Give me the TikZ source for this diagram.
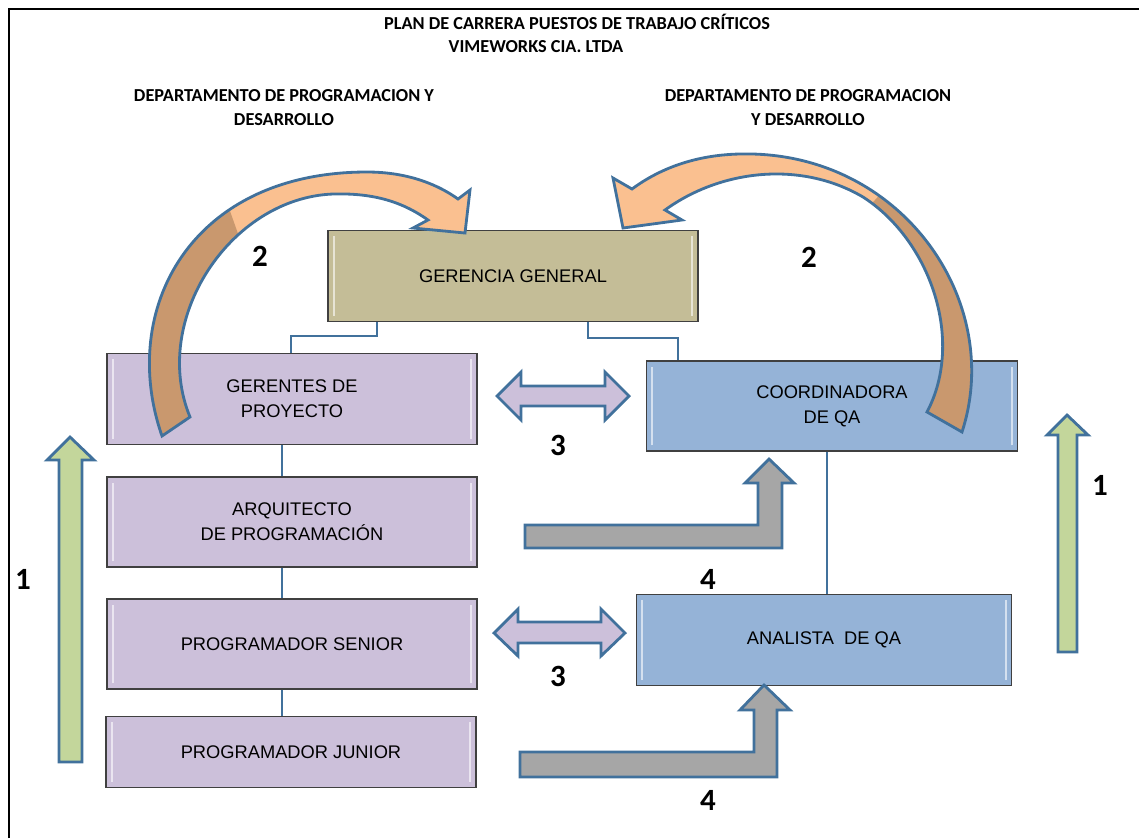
\documentclass[tikz,border=0pt]{standalone}
\usepackage{fontspec}
\setmainfont{Liberation Sans}
\newfontfamily\carlito{Carlito}
\usetikzlibrary{calc}

\definecolor{olivebox}{HTML}{C4BD97}
\definecolor{lilabox}{HTML}{CCC0DA}
\definecolor{bluebox}{HTML}{95B3D7}
\definecolor{lineblue}{HTML}{41719C}
\definecolor{peachlight}{HTML}{FAC090}
\definecolor{peachdark}{HTML}{C9986E}
\definecolor{greyarrow}{HTML}{A6A6A6}
\definecolor{greenarrow}{HTML}{C3D69B}

% curved arrows (2), outline of the whole band
\def\arcleft{(162,436) .. controls (118,310) and (190,172) .. (367,172)
  .. controls (410,172) and (440,186) .. (458,199) -- (470,190) -- (465,233)
  -- (413,228) -- (428,220) .. controls (400,200) and (370,193) .. (333,194)
  .. controls (230,198) and (150,320) .. (190,417) -- cycle}
\def\arcright{(962,432) .. controls (1005,300) and (900,150) .. (740,154)
  .. controls (690,155) and (655,172) .. (632,189) -- (613,178) -- (623,228)
  -- (682,220) -- (665,210) .. controls (720,170) and (800,160) .. (863,197)
  .. controls (930,240) and (965,340) .. (927,412) -- cycle}

\begin{document}
\begin{tikzpicture}[x=0.025cm,y=-0.025cm,
  box/.style={rectangle, draw=black!75, line width=0.8pt, align=center,
    minimum width=9.25cm, minimum height=2.25cm,
    font=\fontsize{13}{18}\selectfont,
    path picture={
      \draw[white, opacity=.6, line width=1.4pt]
        ([xshift=4pt,yshift=4pt]path picture bounding box.south west) --
        ([xshift=4pt,yshift=-4pt]path picture bounding box.north west);
      \draw[white, opacity=.6, line width=1.4pt]
        ([xshift=-4pt,yshift=4pt]path picture bounding box.south east) --
        ([xshift=-4pt,yshift=-4pt]path picture bounding box.north east);}},
  conn/.style={draw=lineblue, line width=2pt},
  blockarrow/.style={draw=lineblue, line width=2pt, line join=miter},
  num/.style={font=\carlito\bfseries\fontsize{22}{22}\selectfont},
  head/.style={font=\carlito\bfseries\fontsize{13}{17}\selectfont, align=center}]
\useasboundingbox (0,0) rectangle (1139,838);
\draw[line width=2pt] (9,838) -- (9,9) -- (1139,9);

% titles
\node[head] (title) at (577,22) {PLAN DE CARRERA PUESTOS DE TRABAJO CRÍTICOS};
\node[head] (firm) at (536,47) {VIMEWORKS CIA. LTDA};
\node[head] (deptA) at (284,108) {DEPARTAMENTO DE PROGRAMACION Y\\DESARROLLO};
\node[head] (deptB) at (808,108) {DEPARTAMENTO DE PROGRAMACION\\Y DESARROLLO};

% puestos
\node[box, fill=olivebox, minimum height=2.275cm] (gg) at (513,276) {GERENCIA GENERAL};
\node[box, fill=lilabox, minimum height=2.275cm] (gp) at (292,399) {GERENTES DE\\PROYECTO};
\node[box, fill=lilabox] (ap) at (292,522) {ARQUITECTO\\DE PROGRAMACIÓN};
\node[box, fill=lilabox] (ps) at (292,644) {PROGRAMADOR SENIOR};
\node[box, fill=lilabox, minimum height=1.775cm] (pj) at (291,752) {PROGRAMADOR JUNIOR};
\node[box, fill=bluebox, minimum width=9.275cm] (cq) at (832,406) {COORDINADORA\\DE QA};
\node[box, fill=bluebox, minimum width=9.375cm, minimum height=2.275cm] (aq) at (824,640) {ANALISTA~~DE QA};

\draw[conn] (gg.south -| 377,0) -- (377,336) -| (gp.north -| 291,0);
\draw[conn] (gg.south -| 588,0) -- (588,338) -| (cq.north -| 678,0);
\draw[conn] (gp.south -| 282,0) -- (ap.north -| 282,0);
\draw[conn] (ap.south -| 282,0) -- (ps.north -| 282,0);
\draw[conn] (ps.south -| 282,0) -- (pj.north -| 282,0);
\draw[conn] (cq.south -| 827,0) -- (aq.north -| 827,0);

% 1: ascenso vertical
\filldraw[blockarrow, fill=greenarrow] (59,762) -- (59,460) -- (47,460) -- (70,437)
  -- (94,460) -- (82,460) -- (82,762) -- cycle;
\filldraw[blockarrow, fill=greenarrow] (1058,652) -- (1058,435) -- (1047,435) -- (1067,415)
  -- (1088,435) -- (1077,435) -- (1077,652) -- cycle;

% 2: hacia gerencia
\fill[peachlight] \arcleft;
\begin{scope}
  \clip \arcleft;
  \fill[peachdark] (100,160) -- (212,160) -- (242,245) -- (260,460) -- (100,460) -- cycle;
\end{scope}
\draw[blockarrow] \arcleft;
\fill[peachlight] \arcright;
\begin{scope}
  \clip \arcright;
  \fill[peachdark] (830,250) -- (920,150) -- (1030,150) -- (1030,460) -- (830,460) -- cycle;
\end{scope}
\draw[blockarrow] \arcright;

% 3: rotacion entre departamentos
\filldraw[blockarrow, fill=lilabox] (497,396) -- (521,372) -- (521,386) -- (605,386) -- (605,372)
  -- (629,396) -- (605,420) -- (605,406) -- (521,406) -- (521,420) -- cycle;
\filldraw[blockarrow, fill=lilabox] (494,633) -- (518,609) -- (518,622) -- (601,622) -- (601,609)
  -- (625,633) -- (601,656) -- (601,643) -- (518,643) -- (518,656) -- cycle;

% 4: hacia QA
\filldraw[blockarrow, fill=greyarrow] (525,525) -- (758,525) -- (758,483) -- (745,483) -- (769,459)
  -- (794,483) -- (782,483) -- (782,548) -- (525,548) -- cycle;
\filldraw[blockarrow, fill=greyarrow] (520,752) -- (754,752) -- (754,710) -- (740,710) -- (764,685)
  -- (790,710) -- (777,710) -- (777,777) -- (520,777) -- cycle;

\node[num] (n1a) at (23,579) {1};
\node[num] (n1b) at (1100,485) {1};
\node[num] (n2a) at (260,256) {2};
\node[num] (n2b) at (809,257) {2};
\node[num] (n3a) at (558,445) {3};
\node[num] (n3b) at (558,676) {3};
\node[num] (n4a) at (708,579) {4};
\node[num] (n4b) at (708,800) {4};
\end{tikzpicture}
\end{document}
